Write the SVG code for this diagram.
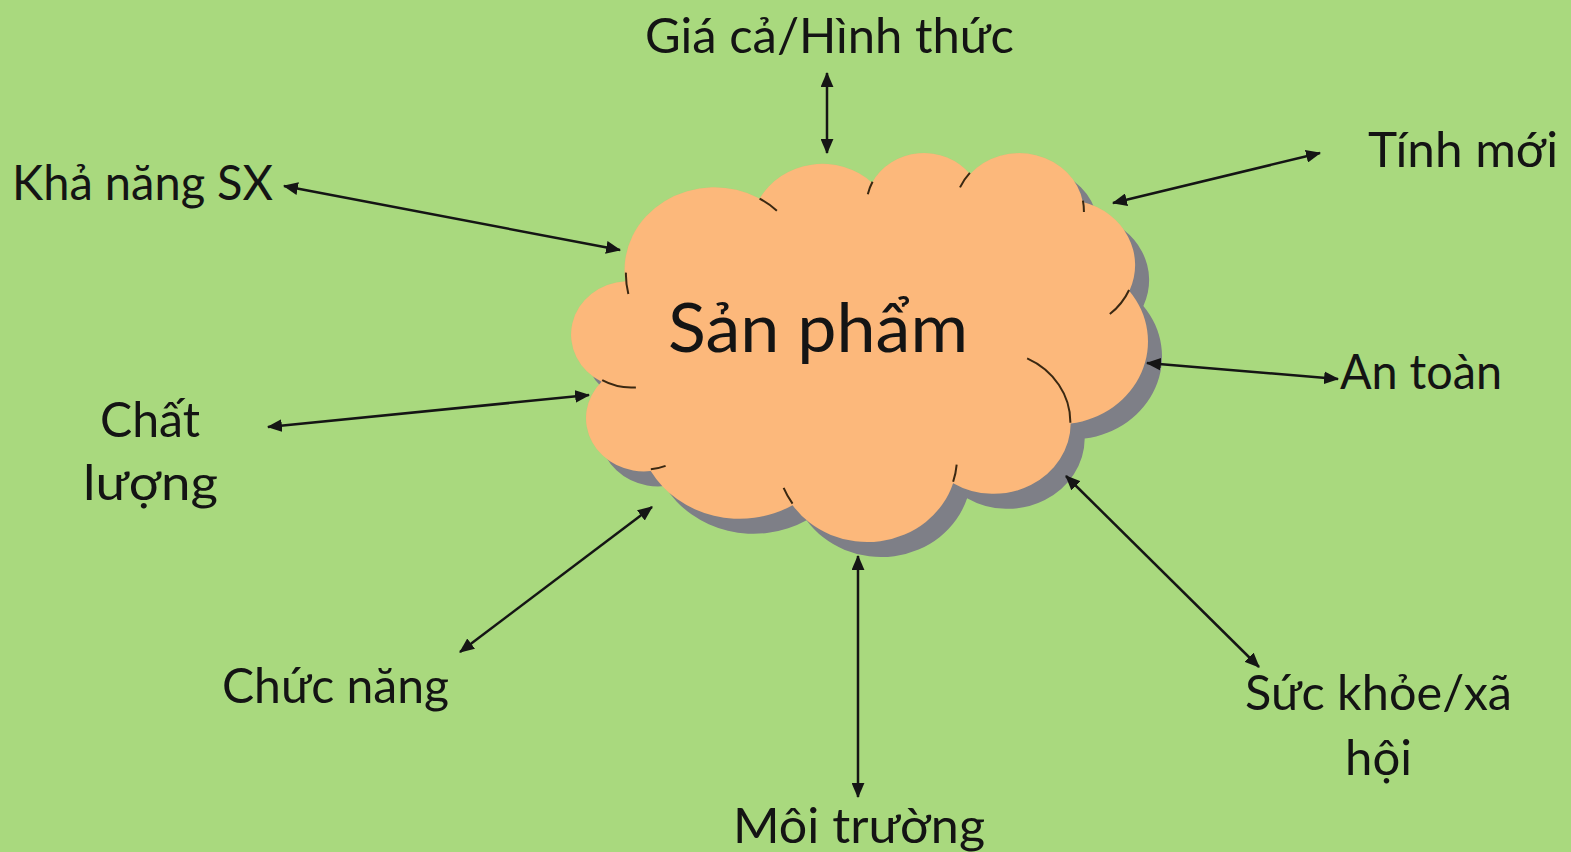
<svg xmlns="http://www.w3.org/2000/svg" width="1571" height="852" viewBox="0 0 1571 852">
<style>
.lbl{font-family:Lato,"Open Sans","Liberation Sans",sans-serif;font-size:48px;fill:#141414}
.big{font-family:Lato,"Open Sans","Liberation Sans",sans-serif;font-size:67px;fill:#141414}
.con{stroke:#151515;stroke-width:2.5;fill:none;marker-start:url(#ah);marker-end:url(#ah)}
.cl{fill:#fcb87b;stroke:#3a2812;stroke-width:2}
.inner{fill:none;stroke:#3a2812;stroke-width:2}
</style>
<defs>
<marker id="ah" viewBox="0 0 14 12" refX="13" refY="6" markerWidth="15" markerHeight="13" markerUnits="userSpaceOnUse" orient="auto-start-reverse">
<path d="M0,0 L14,6 L0,12 z" fill="#151515"/>
</marker>
<path id="cloudShape" d="M3900 14370 A6753 9190 0 0 1 14006 5202 A5333 7267 0 0 1 22458 3429 A4365 5945 0 0 1 29836 2478 A4857 6595 0 0 1 38321 5573 A5333 7273 0 0 1 41821 15457 A6775 9220 0 0 1 37407 30199 A5785 7867 0 0 1 28559 36810 A6752 9215 0 0 1 16484 39264 A7720 10543 0 0 1 5806 35469 A4360 5918 0 0 1 2113 25550 A4345 5945 0 0 1 3900 14370 Z"/>
<filter id="blur" x="-5%" y="-5%" width="110%" height="110%"><feGaussianBlur stdDeviation="1.5"/></filter>
</defs>
<rect x="0" y="0" width="1571" height="852" fill="#a9d97e"/>

<g id="node-san-pham">
<g transform="translate(587.5 166.8) scale(0.013292 0.009001)" filter="url(#blur)">
<use href="#cloudShape" fill="#7e7f87"/>
</g>
<g transform="translate(573.5 151.8) scale(0.013292 0.009001)">
<use href="#cloudShape" class="cl" vector-effect="non-scaling-stroke"/>
<path class="inner" vector-effect="non-scaling-stroke" d="M4693 26177 A4345 5945 0 0 1 2159 25380 M6928 34899 A4360 5918 0 0 1 5819 35281 M16478 39090 A6752 9215 0 0 1 15809 37348 M28827 34751 A6752 9215 0 0 1 28561 36659 M34129 22954 A5785 7867 0 0 1 37380 30090 M41798 15354 A5333 7273 0 0 1 40350 18030 M38324 5426 A4857 6595 0 0 1 38400 6690 M29078 3952 A4857 6595 0 0 1 29820 2340 M22141 4720 A4365 5945 0 0 1 22500 3330 M14000 5192 A6753 9190 0 0 1 15300 6540 M4127 15789 A6753 9190 0 0 1 3946 13426"/>
</g>
<text class="big" x="668" y="352" textLength="300" lengthAdjust="spacingAndGlyphs">Sản phẩm</text>
</g>

<g id="node-gia-ca"><text class="lbl" x="645" y="53" textLength="369" lengthAdjust="spacingAndGlyphs">Giá cả/Hình thức</text></g>
<g id="node-kha-nang"><text class="lbl" x="12" y="200" textLength="261" lengthAdjust="spacingAndGlyphs">Khả năng SX</text></g>
<g id="node-tinh-moi"><text class="lbl" x="1368" y="167" textLength="190" lengthAdjust="spacingAndGlyphs">Tính mới</text></g>
<g id="node-an-toan"><text class="lbl" x="1340" y="389" textLength="162" lengthAdjust="spacingAndGlyphs">An toàn</text></g>
<g id="node-chat-luong">
<text class="lbl" x="100" y="437" textLength="100" lengthAdjust="spacingAndGlyphs">Chất</text>
<text class="lbl" x="83" y="500" textLength="135" lengthAdjust="spacingAndGlyphs">lượng</text>
</g>
<g id="node-chuc-nang"><text class="lbl" x="222" y="703" textLength="227" lengthAdjust="spacingAndGlyphs">Chức năng</text></g>
<g id="node-suc-khoe">
<text class="lbl" x="1245" y="710" textLength="267" lengthAdjust="spacingAndGlyphs">Sức khỏe/xã</text>
<text class="lbl" x="1345" y="775" textLength="67" lengthAdjust="spacingAndGlyphs">hội</text>
</g>
<g id="node-moi-truong"><text class="lbl" x="733" y="843" textLength="252" lengthAdjust="spacingAndGlyphs">Môi trường</text></g>

<g id="connectors">
<line class="con" x1="827" y1="73" x2="827" y2="153"/>
<line class="con" x1="284" y1="186" x2="620" y2="250"/>
<line class="con" x1="1320" y1="153" x2="1113" y2="203"/>
<line class="con" x1="1147" y1="363" x2="1338" y2="379"/>
<line class="con" x1="268" y1="427" x2="589" y2="395"/>
<line class="con" x1="460" y1="652" x2="652" y2="507"/>
<line class="con" x1="858" y1="556" x2="858" y2="797"/>
<line class="con" x1="1066" y1="476" x2="1259" y2="667"/>
</g>
</svg>
